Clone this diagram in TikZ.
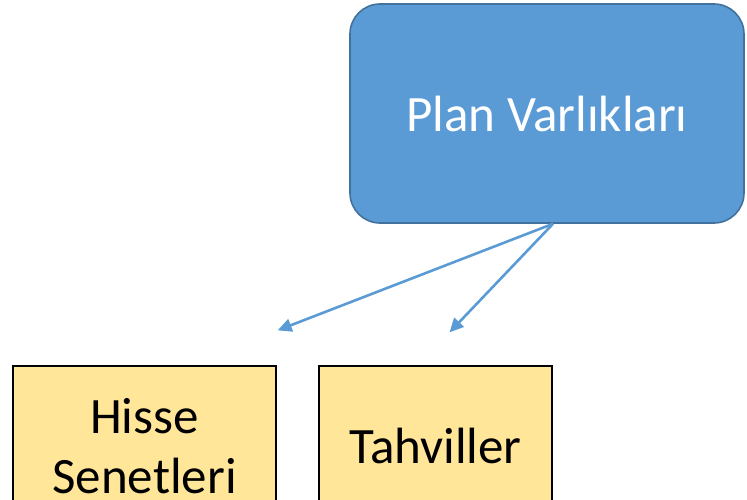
\documentclass[tikz,border=0pt]{standalone}
\usepackage{fontspec}
\setmainfont{Carlito}
\usepackage{xcolor}
\usepackage{tikz}
\usetikzlibrary{arrows.meta,calc,positioning}
\definecolor{planfill}{HTML}{5B9BD5}
\definecolor{planline}{HTML}{41719C}
\definecolor{assetfill}{HTML}{FFE699}
\definecolor{link}{HTML}{5B9BD5}
\tikzset{planbox/.style={draw=planline,fill=planfill,line width=1.6pt,rounded corners=30pt,text=white,minimum width=394pt,minimum height=219pt,font=\fontsize{51}{60}\selectfont},assetbox/.style={draw=black,fill=assetfill,line width=1.3pt,minimum height=160pt,align=center,font=\fontsize{51}{60}\selectfont},link/.style={-{Triangle[length=14pt,width=13pt]},draw=link,line width=2.6pt}}

\begin{document}
\begin{tikzpicture}[x=1pt,y=1pt]
 \clip (0,0) rectangle (747,499);
 \node[planbox] (plan) at (547,385.5) {Plan Varlıkları};
 \node[assetbox,minimum width=263pt] (hisse) at (144.5,53) {Hisse\\Senetleri};
 \node[assetbox,minimum width=233pt] (tahvil) at (435.5,53) {Tahviller};
 \coordinate (src) at ([xshift=6pt]plan.south);
 \coordinate (hisseend) at ([xshift=1pt,yshift=35pt]hisse.north east);
 \coordinate (tahvilend) at ([xshift=14pt,yshift=33pt]tahvil.north);
 \draw[link] (src) -- (hisseend); \draw[link] (src) -- (tahvilend);
\end{tikzpicture}
\end{document}
